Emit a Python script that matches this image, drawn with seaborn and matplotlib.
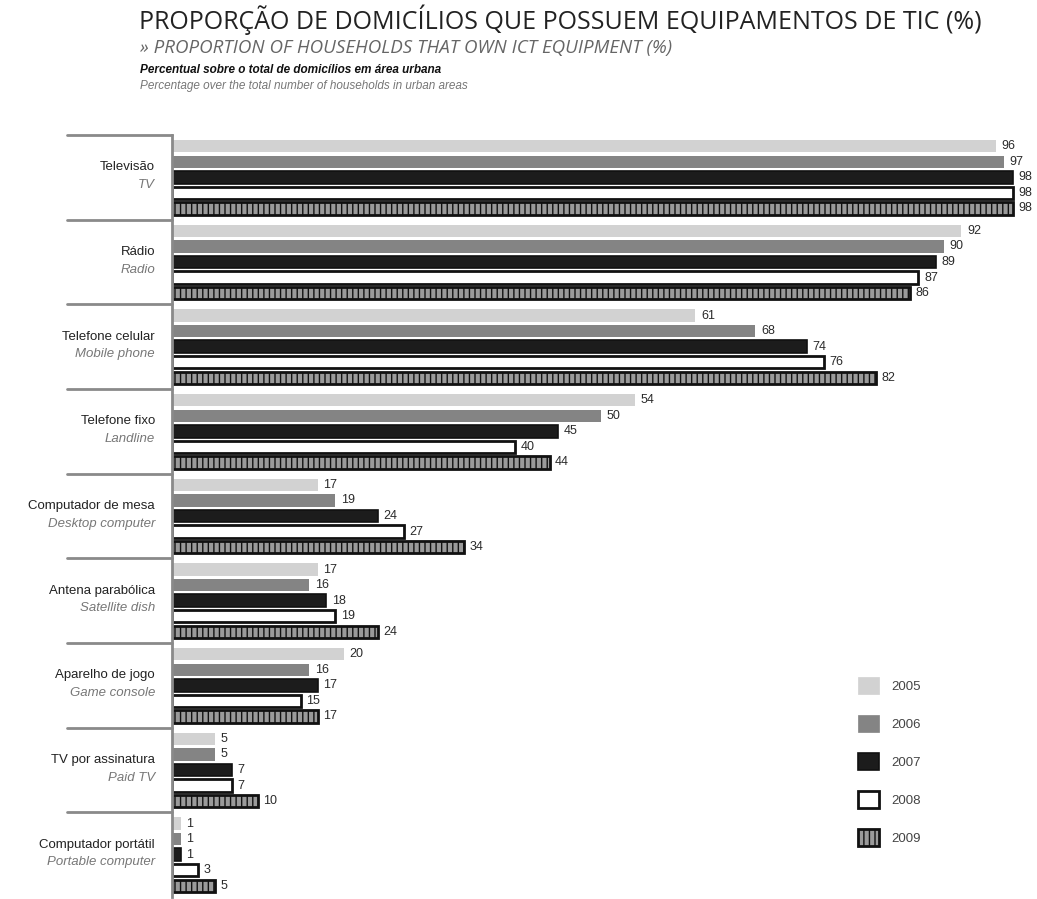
import matplotlib
matplotlib.use("Agg")
import matplotlib.pyplot as plt
import matplotlib.transforms as mtransforms
from matplotlib.patches import Patch
import seaborn as sns
import pandas as pd

categories_pt = ["Televisão", "Rádio", "Telefone celular", "Telefone fixo",
                 "Computador de mesa", "Antena parabólica", "Aparelho de jogo",
                 "TV por assinatura", "Computador portátil"]
categories_en = ["TV", "Radio", "Mobile phone", "Landline", "Desktop computer",
                 "Satellite dish", "Game console", "Paid TV", "Portable computer"]
years = ["2005", "2006", "2007", "2008", "2009"]
v2005 = [96, 92, 61, 54, 17, 17, 20, 5, 1]
v2006 = [97, 90, 68, 50, 19, 16, 16, 5, 1]
v2007 = [98, 89, 74, 45, 24, 18, 17, 7, 1]
v2008 = [98, 87, 76, 40, 27, 19, 15, 7, 3]
v2009 = [98, 86, 82, 44, 34, 24, 17, 10, 5]

series = [v2005, v2006, v2007, v2008, v2009]
rows = []
for y, vals in zip(years, series):
    for c, v in zip(categories_pt, vals):
        rows.append({"cat": c, "year": y, "value": v})
df = pd.DataFrame(rows)

sns.set_style("white")
plt.rcParams["font.family"] = ["Liberation Sans", "DejaVu Sans"]
plt.rcParams["hatch.linewidth"] = 1.0

W, H = 1037, 899
fig = plt.figure(figsize=(W / 100, H / 100), dpi=100)
ax = fig.add_axes([172 / W, 1 - 897 / H, (1030 - 172) / W, (897 - 135) / H])

face = ["#d2d2d2", "#848484", "#1c1c1c", "#ffffff", "#9a9a9a"]
palette = dict(zip(years, face))
sns.barplot(data=df, y="cat", x="value", hue="year", hue_order=years,
            order=categories_pt, orient="h", palette=palette, width=0.92,
            gap=0.2, ax=ax, legend=False, saturation=1)

styles = [
    dict(edgecolor="none", linewidth=0, hatch=None),
    dict(edgecolor="none", linewidth=0, hatch=None),
    dict(edgecolor="#111111", linewidth=1.2, hatch=None),
    dict(edgecolor="#111111", linewidth=2.0, hatch=None),
    dict(edgecolor="#111111", linewidth=2.0, hatch="|||"),
]
for cont, st in zip(ax.containers, styles):
    for bar in cont:
        bar.set_edgecolor(st["edgecolor"])
        bar.set_linewidth(st["linewidth"])
        if st["hatch"]:
            bar.set_hatch(st["hatch"])
    ax.bar_label(cont, padding=4, fontsize=9, color="#2a2a2a")

ax.set_xlim(0, 100)
ax.set_ylim(len(categories_pt) - 0.5, -0.5)
ax.set_xlabel("")
ax.set_ylabel("")
ax.set_xticks([])
ax.set_yticks([])
for s in ["top", "right", "bottom"]:
    ax.spines[s].set_visible(False)
ax.spines["left"].set_color("#8a8a8a")
ax.spines["left"].set_linewidth(2)

trans = mtransforms.blended_transform_factory(ax.transAxes, ax.transData)
x0 = (67 - 172) / (1030 - 172)
for i in range(len(categories_pt)):
    ax.plot([x0, 0], [i - 0.5, i - 0.5], color="#8a8a8a", lw=2,
            transform=trans, clip_on=False)
xl = (155 - 172) / (1030 - 172)
for i, (pt, en) in enumerate(zip(categories_pt, categories_en)):
    ax.text(xl, i - 0.12, pt, transform=trans, ha="right", va="center",
            fontsize=9.5, color="#222222")
    ax.text(xl, i + 0.09, en, transform=trans, ha="right", va="center",
            fontsize=9.5, color="#777777", style="italic")

fig.text(560 / W, 1 - 20 / H, "PROPORÇÃO DE DOMICÍLIOS QUE POSSUEM EQUIPAMENTOS DE TIC (%)",
         ha="center", va="center", fontsize=18, color="#222222",
         family=["Open Sans", "DejaVu Sans"])
fig.text(140 / W, 1 - 48 / H, "» PROPORTION OF HOUSEHOLDS THAT OWN ICT EQUIPMENT (%)",
         ha="left", va="center", fontsize=13.5, color="#666666", style="italic",
         family=["Open Sans", "DejaVu Sans"])
fig.text(140 / W, 1 - 70 / H, "Percentual sobre o total de domicílios em área urbana",
         ha="left", va="center", fontsize=8.5, color="#111111", style="italic",
         weight="bold")
fig.text(140 / W, 1 - 86 / H, "Percentage over the total number of households in urban areas",
         ha="left", va="center", fontsize=8.5, color="#777777", style="italic")

handles = []
for st, fc in zip(styles, face):
    handles.append(Patch(facecolor=fc, edgecolor=st["edgecolor"] if st["edgecolor"] != "none" else fc,
                         linewidth=max(st["linewidth"], 0.5), hatch=st["hatch"]))
fig.legend(handles, years, loc="upper left", bbox_to_anchor=(846 / W, 1 - 665 / H),
           frameon=False, fontsize=9.5, handlelength=1.6, handleheight=1.6,
           labelspacing=1.6, handletextpad=0.9, labelcolor="#444444")

fig.savefig("out.png", dpi=100, facecolor="white")
